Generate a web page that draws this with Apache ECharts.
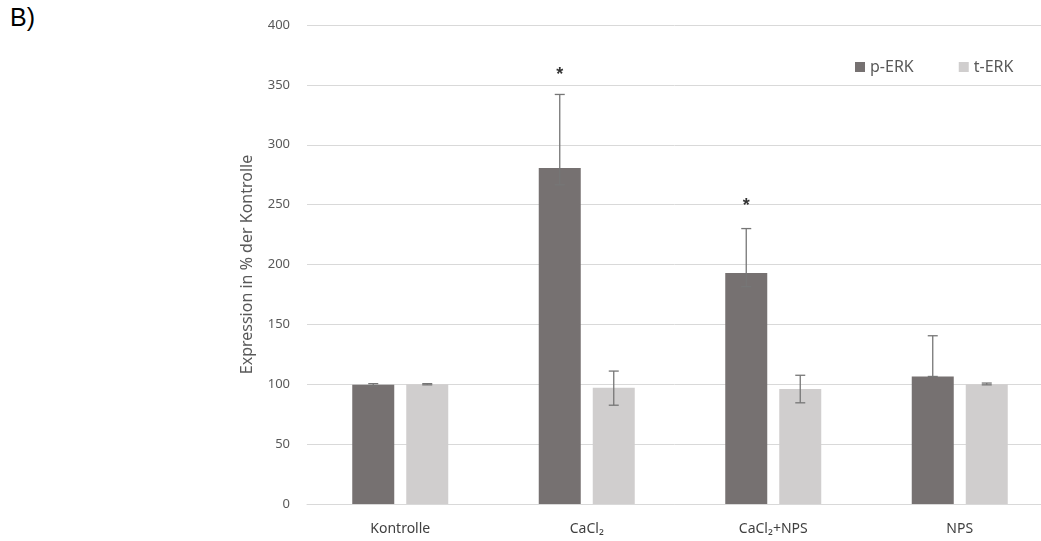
<!DOCTYPE html>
<html>
<head>
<meta charset="utf-8">
<script src="https://cdn.jsdelivr.net/npm/echarts@6/dist/echarts.min.js"></script>
<style>
  html, body { margin: 0; padding: 0; background: #fff; }
  #main { width: 1041px; height: 541px; }
  #tag { position: absolute; left: 10px; top: 3px; font: 25px Arial, "Liberation Sans", sans-serif; color: #000; }
</style>
</head>
<body>
<div id="tag">B)</div>
<div id="main"></div>
<script>
// data
const categories = ['Kontrolle', 'CaCl\u2082', 'CaCl\u2082+NPS', 'NPS'];
const pErk = [99.5, 280.5, 193, 106.5];
const pErkLow = [98.5, 266.5, 181.5, 106.5];
const pErkHigh = [100.5, 342, 230, 140.5];
const tErk = [100, 97, 96, 100];
const tErkLow = [99.5, 82.5, 84.5, 99.5];
const tErkHigh = [100.5, 111, 107.5, 101];
const stars = [null, 358, 249, null];
const yTicks = [0, 50, 100, 150, 200, 250, 300, 350, 400];

const BAR_W = 42;
const BAR_GAP = 12;
const SHIFT = (BAR_W + BAR_GAP) / 2;
const FONT = '"Noto Sans", "Open Sans", sans-serif';

var chart = echarts.init(document.getElementById('main'));

function errorBars(dir) {
  return function (params, api) {
    var i = api.value(0);
    var top = api.coord([i, api.value(2)]);
    var bot = api.coord([i, api.value(1)]);
    var x = top[0] + dir * SHIFT;
    var style = { stroke: '#767676', lineWidth: 1.3 };
    return {
      type: 'group',
      children: [
        { type: 'line', shape: { x1: x, y1: top[1], x2: x, y2: bot[1] }, style: style },
        { type: 'line', shape: { x1: x - 5, y1: top[1], x2: x + 5, y2: top[1] }, style: style },
        { type: 'line', shape: { x1: x - 5, y1: bot[1], x2: x + 5, y2: bot[1] }, style: style }
      ]
    };
  };
}

var option = {
  animation: false,
  color: ['#767171', '#d0cece'],
  grid: { left: 307, width: 746, top: 25, bottom: 37, outerBoundsMode: 'none' },
  legend: {
    data: ['p-ERK', 't-ERK'],
    left: 850,
    top: 54,
    icon: 'rect',
    itemWidth: 10,
    itemHeight: 10,
    itemGap: 45,
    textStyle: { color: '#595959', fontSize: 16, fontFamily: FONT }
  },
  xAxis: {
    type: 'category',
    data: categories,
    axisTick: { show: false },
    axisLine: { lineStyle: { color: '#d9d9d9' } },
    axisLabel: { color: '#404040', fontSize: 14, fontFamily: FONT, margin: 18 }
  },
  yAxis: {
    type: 'value',
    min: yTicks[0],
    max: yTicks[yTicks.length - 1],
    interval: yTicks[1] - yTicks[0],
    name: 'Expression in % der Kontrolle',
    nameLocation: 'middle',
    nameGap: 52,
    nameTextStyle: { color: '#595959', fontSize: 16, fontFamily: FONT },
    axisLine: { show: false },
    axisTick: { show: false },
    axisLabel: { color: '#595959', fontSize: 13, fontFamily: FONT, margin: 17 },
    splitLine: { lineStyle: { color: '#d9d9d9' } }
  },
  series: [
    { name: 'p-ERK', type: 'bar', data: pErk, barWidth: BAR_W, barGap: (BAR_GAP / BAR_W * 100) + '%' },
    { name: 't-ERK', type: 'bar', data: tErk, barWidth: BAR_W },
    {
      type: 'custom', z: 5, silent: true,
      renderItem: errorBars(-1),
      encode: { x: 0, y: [1, 2] },
      data: categories.map(function (c, i) { return [i, pErkLow[i], pErkHigh[i]]; })
    },
    {
      type: 'custom', z: 5, silent: true,
      renderItem: errorBars(1),
      encode: { x: 0, y: [1, 2] },
      data: categories.map(function (c, i) { return [i, tErkLow[i], tErkHigh[i]]; })
    },
    {
      type: 'scatter', symbolSize: 0, silent: true,
      data: stars,
      label: {
        show: true, position: 'inside', formatter: '*', offset: [-SHIFT, 0],
        color: '#000', fontSize: 18, fontWeight: 'bold', fontFamily: 'Arial, sans-serif'
      }
    }
  ]
};

chart.setOption(option);
</script>
</body>
</html>
